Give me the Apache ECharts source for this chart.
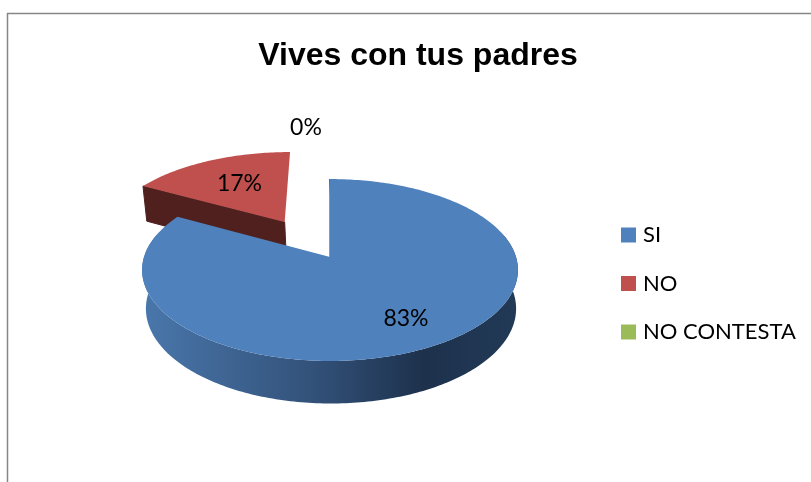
<!DOCTYPE html>
<html><head><meta charset="utf-8">
<style>html,body{margin:0;padding:0;background:#fff}#c{width:811px;height:482px}</style>
<script src="https://cdn.jsdelivr.net/npm/echarts@6/dist/echarts.min.js"></script>
</head><body><div id="c"></div>
<script>
var titleText = 'Vives con tus padres';
var categories = ['SI', 'NO', 'NO CONTESTA'];
var values = [83, 17, 0];
var topColors = ['#4f81bd', '#c0504d', '#9bbb59'];
var explode = [0, 0.49, 0.49];
var explodeTurn = [0, -1.2, 0];
var labelRadius = [0.73, 0.6, 1.35];
var labelNudge = [0, 2, -24];

// Projection of the tilted pie
var X0 = 330, Y0 = 257, RX = 186, RY = 89.1, K = 1 / 7;
var total = values.reduce(function (a, b) { return a + b; }, 0);

function project(u, v) {
  var s = 1 / (1 + K * v);
  return { x: X0 + RX * u * s, y: Y0 - RY * v * s, s: s };
}
function topPt(u, v) { var p = project(u, v); return [p.x, p.y]; }
function botPt(u, v) {
  var p = project(u, v);
  return [X0 + 1 + (p.x - X0) * 0.985, p.y + 26.6 * p.s + 11.5];
}
var D = Math.PI / 180;
function makeRender(idx) {
  return function (params, api) {
    var before = 0;
    for (var i = 0; i < idx; i++) before += values[i];
    var a0 = before / total * 360, a1 = (before + api.value(0)) / total * 360;
    var mid = (a0 + a1) / 2;
    var dir = mid + explodeTurn[idx];
    var ou = explode[idx] * Math.sin(dir * D), ov = explode[idx] * Math.cos(dir * D);
    var pt = function (a, r, f) {
      return f(ou + r * Math.sin(a * D), ov + r * Math.cos(a * D));
    };
    var children = [];
    var color = topColors[idx];
    if (a1 > a0) {
      var wallDark = idx === 0 ? '#1f3550' : '#4f201e';
      // radial wall at the start of the slice
      children.push({
        type: 'polygon',
        shape: { points: [pt(a0, 0, topPt), pt(a0, 1, topPt), pt(a0, 1, botPt), pt(a0, 0, botPt)] },
        style: { fill: wallDark, stroke: wallDark, lineWidth: 1 }
      });
      // outer rim wall (front part only)
      var w0 = Math.max(a0, 75), w1 = Math.min(a1, 285);
      if (w1 > w0) {
        var upper = [], lower = [];
        for (var a = w0; a <= w1; a += 1) { upper.push(pt(a, 1, topPt)); lower.unshift(pt(a, 1, botPt)); }
        children.push({
          type: 'polygon',
          shape: { points: upper.concat(lower) },
          style: {
            fill: new echarts.graphic.LinearGradient(0, 0, 1, 0, [
              { offset: 0, color: '#4a78ad' },
              { offset: 0.05, color: '#4773a6' },
              { offset: 0.45, color: '#33527a' },
              { offset: 0.75, color: '#1d314c' },
              { offset: 1, color: '#223a57' }
            ])
          }
        });
      }
      // top face
      var face = [pt(0, 0, topPt)];
      for (var t = a0; t < a1; t += 1) face.push(pt(t, 1, topPt));
      face.push(pt(a1, 1, topPt));
      children.push({ type: 'polygon', shape: { points: face }, style: { fill: color } });
    }
    var lp = pt(mid, labelRadius[idx], topPt);
    children.push({
      type: 'text',
      x: lp[0] + labelNudge[idx], y: lp[1],
      style: {
        text: Math.round(api.value(0) / total * 100) + '%',
        fill: '#000', font: '23px Lato', align: 'center', verticalAlign: 'middle'
      }
    });
    return { type: 'group', children: children };
  };
}

var series = categories.map(function (name, i) {
  return {
    type: 'custom', name: name, coordinateSystem: 'none',
    z: i === 0 ? 3 : 2, silent: true, animation: false,
    itemStyle: { color: topColors[i] },
    data: [[values[i]]],
    encode: { value: 0 },
    renderItem: makeRender(i)
  };
});

var chart = echarts.init(document.getElementById('c'), null, { renderer: 'canvas' });
chart.setOption({
  animation: false,
  backgroundColor: '#fff',
  title: {
    text: titleText, left: 413, top: 35, textAlign: 'center',
    textStyle: { fontFamily: 'Liberation Sans', fontWeight: 'bold', fontSize: 32, color: '#000' }
  },
  legend: {
    orient: 'vertical', left: 616, top: 219, itemWidth: 15, itemHeight: 15, itemGap: 26.5,
    icon: 'rect', data: categories,
    textStyle: { fontFamily: 'Lato', fontSize: 22, color: '#000', padding: [0, 0, 0, 2] }
  },
  graphic: [
    { type: 'line', silent: true, shape: { x1: 7, y1: 13.5, x2: 811, y2: 13.5 }, style: { stroke: '#868686', lineWidth: 1.5 } },
    { type: 'line', silent: true, shape: { x1: 7.5, y1: 13, x2: 7.5, y2: 482 }, style: { stroke: '#868686', lineWidth: 1.5 } }
  ],
  series: series
});
</script></body></html>
